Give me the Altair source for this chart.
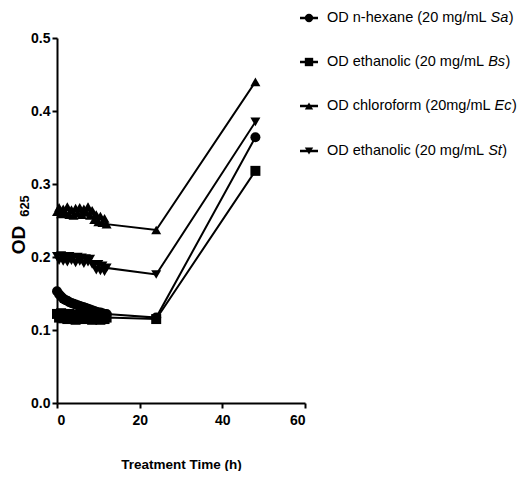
import altair as alt
import pandas as pd

FONT = "Liberation Sans, Arial, sans-serif"

# ---- data ----
times = [0, 0.5, 1, 1.5, 2, 2.5, 3, 3.5, 4, 4.5, 5, 5.5, 6, 6.5, 7, 7.5, 8, 8.5,
         9, 9.5, 10, 10.5, 11, 11.5, 12, 24, 48]
sa = [0.153, 0.149, 0.146, 0.143, 0.141, 0.140, 0.138, 0.137, 0.136, 0.135, 0.134,
      0.133, 0.132, 0.131, 0.130, 0.129, 0.128, 0.127, 0.126, 0.125, 0.124, 0.124,
      0.123, 0.122, 0.122, 0.117, 0.364]
bs = [0.122, 0.117, 0.123, 0.116, 0.121, 0.115, 0.122, 0.117, 0.120, 0.114, 0.121,
      0.116, 0.122, 0.115, 0.120, 0.116, 0.121, 0.114, 0.119, 0.115, 0.120, 0.114,
      0.119, 0.115, 0.117, 0.115, 0.318]
ec = [0.262, 0.268, 0.259, 0.266, 0.260, 0.269, 0.258, 0.265, 0.257, 0.267, 0.260,
      0.268, 0.258, 0.266, 0.261, 0.269, 0.257, 0.264, 0.251, 0.258, 0.248, 0.256,
      0.247, 0.253, 0.245, 0.237, 0.440]
st = [0.201, 0.195, 0.202, 0.194, 0.200, 0.193, 0.201, 0.195, 0.199, 0.192, 0.200,
      0.194, 0.199, 0.191, 0.198, 0.193, 0.197, 0.190, 0.189, 0.182, 0.190, 0.181,
      0.188, 0.180, 0.185, 0.176, 0.385]

series_keys = ["Sa", "Bs", "Ec", "St"]
series_vals = [sa, bs, ec, st]
shapes = ["circle", "square", "triangle-up", "triangle-down"]
label_pre = ["OD n-hexane (20 mg/mL ", "OD ethanolic (20 mg/mL ",
             "OD chloroform (20mg/mL ", "OD ethanolic (20 mg/mL "]
label_it = ["Sa", "Bs", "Ec", "St"]
label_post = [")", ")", ")", ")"]

x_ticks = [0, 20, 40, 60]
y_ticks = [0.0, 0.1, 0.2, 0.3, 0.4, 0.5]

rows = []
for key, vals in zip(series_keys, series_vals):
    for t, v in zip(times, vals):
        rows.append({"time": t, "od": v, "series": key})
df = pd.DataFrame(rows)

# ---- main plot ----
x_enc = alt.X("time:Q", scale=alt.Scale(domain=[0, 60], nice=False),
              axis=alt.Axis(values=x_ticks, title="Treatment Time (h)",
                            titleFont=FONT, titleFontSize=13.5, titleFontWeight="bold",
                            titleColor="black", titlePadding=30, labelPadding=5))
y_enc = alt.Y("od:Q", scale=alt.Scale(domain=[0, 0.5], nice=False),
              axis=alt.Axis(values=y_ticks, format=".1f", title=None, labelPadding=2))

lines = alt.Chart(df).mark_line(color="black", strokeWidth=2).encode(
    x=x_enc, y=y_enc, detail="series:N")
points = alt.Chart(df).mark_point(filled=True, color="black", opacity=1, size=100).encode(
    x=x_enc, y=y_enc,
    shape=alt.Shape("series:N", scale=alt.Scale(domain=series_keys, range=shapes), legend=None))

one = pd.DataFrame({"k": [0]})

# y-axis title: OD with subscript 625
ytitle = alt.Chart(one).mark_text(text="OD", angle=270, font=FONT,
                                  fontSize=19, fontWeight="bold", color="black",
                                  align="center", baseline="middle").encode(
    x=alt.value(-38.5), y=alt.value(202))
ysub = alt.Chart(one).mark_text(text="625", angle=270, font=FONT,
                                fontSize=13, fontWeight="bold", color="black",
                                align="center", baseline="middle").encode(
    x=alt.value(-32), y=alt.value(168))

# ---- manual legend ----
W = {"O": 778, "D": 722, " ": 278, "n": 556, "-": 333, "h": 556, "e": 556, "x": 500,
     "a": 556, "(": 333, ")": 333, "2": 556, "0": 556, "m": 833, "g": 556, "/": 278,
     "L": 556, "t": 278, "o": 556, "l": 222, "i": 222, "c": 500, "r": 333, "f": 278,
     "S": 667, "B": 667, "E": 667, "s": 500}
LSIZE = 14.5


def text_w(s):
    return sum(W.get(ch, 556) for ch in s) / 1000 * LSIZE


legend_layers = []
row_y = [-20, 24, 68, 113]
for i in range(4):
    ry = row_y[i]
    legend_layers.append(alt.Chart(one).mark_rule(color="black", strokeWidth=2.5).encode(
        x=alt.value(243), x2=alt.value(261), y=alt.value(ry)))
    legend_layers.append(alt.Chart(one).mark_point(shape=shapes[i], filled=True, color="black",
                                                   opacity=1, size=70).encode(
        x=alt.value(252), y=alt.value(ry)))
    x0 = 270
    x1 = x0 + text_w(label_pre[i])
    x2 = x1 + text_w(label_it[i]) + 0.5
    for txt, xx, style in [(label_pre[i], x0, "normal"), (label_it[i], x1, "italic"),
                           (label_post[i], x2, "normal")]:
        legend_layers.append(alt.Chart(one).mark_text(
            text=txt, font=FONT, fontSize=LSIZE, fontStyle=style, color="black",
            align="left", baseline="middle").encode(x=alt.value(xx), y=alt.value(ry)))

chart = alt.layer(lines, points, ytitle, ysub, *legend_layers).properties(
    width=248, height=365,
    padding={"left": 1, "top": 2, "right": 0, "bottom": 0}
).configure_view(stroke=None).configure_axis(
    grid=False, domainColor="black", domainWidth=2, tickColor="black", tickWidth=2,
    tickSize=5, labelFont=FONT, labelFontSize=14, labelFontWeight="bold",
    labelColor="black"
)

chart.save("out.html", embed_options={"renderer": "svg", "actions": False})
